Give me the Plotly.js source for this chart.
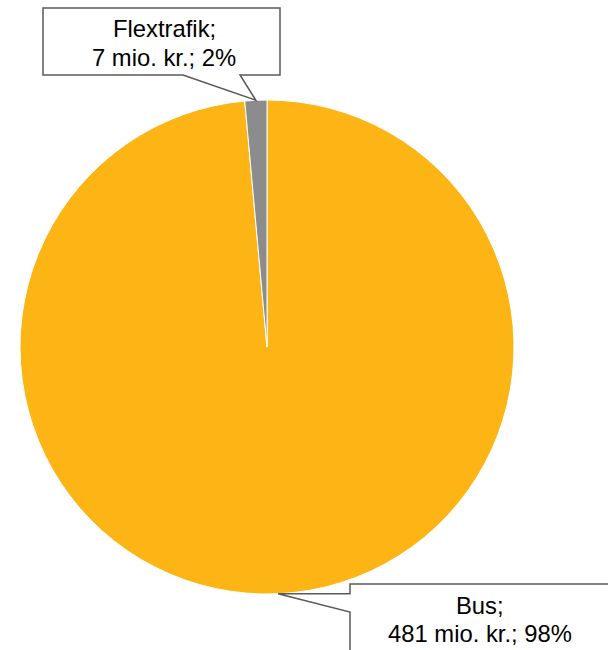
<!DOCTYPE html>
<html>
<head>
<meta charset="utf-8">
<script src="https://cdn.plot.ly/plotly-3.0.1.min.js"></script>
<style>html,body{margin:0;padding:0;background:#fff;}#chart{width:608px;height:650px;}</style>
</head>
<body>
<div id="chart"></div>
<script>
// Data
const categories = ["Bus", "Flextrafik"];
const values = [481, 7];          // mio. kr.
const percentLabels = ["98%", "2%"];
const colors = ["#FDB515", "#8C8C8C"];

// Layout constants (pixels)
const W = 608, H = 650;
const CX = 267, CY = 347, R = 247;
const FONT = "Liberation Sans, Arial, sans-serif";
const FS = 23.8;

const px = x => x / W;
const py = y => 1 - y / H;

// label boxes (pixel positions of callout bubbles)
const boxes = [
  { // Bus
    x0: 350, y0: 584, x1: 620, y1: 662, side: "left", b0: 584, b1: 612, tx: 480, ty: [605, 633]
  },
  { // Flextrafik
    x0: 43, y0: 8, x1: 280, y1: 75, side: "bottom", b0: 183, b1: 240, tx: 164, ty: [29, 57]
  }
];

// slice midpoints from data
const total = values.reduce((a, b) => a + b, 0);
let cum = 0;
const tips = values.map(v => {
  const th = 2 * Math.PI * (cum + v / 2) / total;
  cum += v;
  return { x: CX + R * Math.sin(th), y: CY - R * Math.cos(th) };
});

const shapes = [];
const annotations = [];
boxes.forEach((b, i) => {
  const t = tips[i];
  let pts;
  if (b.side === "left") {
    pts = [[b.x0, b.y0], [b.x1, b.y0], [b.x1, b.y1], [b.x0, b.y1], [b.x0, b.b1], [t.x, t.y], [b.x0, t.y], [b.x0, b.y0]];
  } else {
    pts = [[b.x0, b.y0], [b.x1, b.y0], [b.x1, b.y1], [b.b1, b.y1], [t.x, t.y], [b.b0, b.y1], [b.x0, b.y1]];
  }
  const path = "M" + pts.map(p => px(p[0]).toFixed(5) + "," + py(p[1]).toFixed(5)).join("L") + "Z";
  shapes.push({
    type: "path", xref: "paper", yref: "paper", path: path,
    fillcolor: "#FFFFFF", line: { color: "#595959", width: 1.5 }, layer: "above"
  });
  const lines = [categories[i] + ";", values[i] + " mio. kr.; " + percentLabels[i]];
  lines.forEach((txt, k) => {
    annotations.push({
      xref: "paper", yref: "paper", x: px(b.tx), y: py(b.ty[k]),
      xanchor: "center", yanchor: "middle", showarrow: false,
      text: txt, font: { family: FONT, size: FS, color: "#000000" }
    });
  });
});

const trace = {
  type: "pie",
  labels: categories,
  values: values,
  sort: false,
  direction: "clockwise",
  rotation: 0,
  textinfo: "none",
  hoverinfo: "none",
  marker: { colors: colors, line: { color: "#FFFFFF", width: 1 } },
  domain: { x: [px(CX - R), px(CX + R)], y: [py(CY + R), py(CY - R)] },
  showlegend: false
};

Plotly.newPlot("chart", [trace], {
  width: W, height: H,
  margin: { l: 0, r: 0, t: 0, b: 0 },
  paper_bgcolor: "#FFFFFF",
  plot_bgcolor: "#FFFFFF",
  showlegend: false,
  shapes: shapes,
  annotations: annotations
}, { displayModeBar: false, staticPlot: true });
</script>
</body>
</html>
